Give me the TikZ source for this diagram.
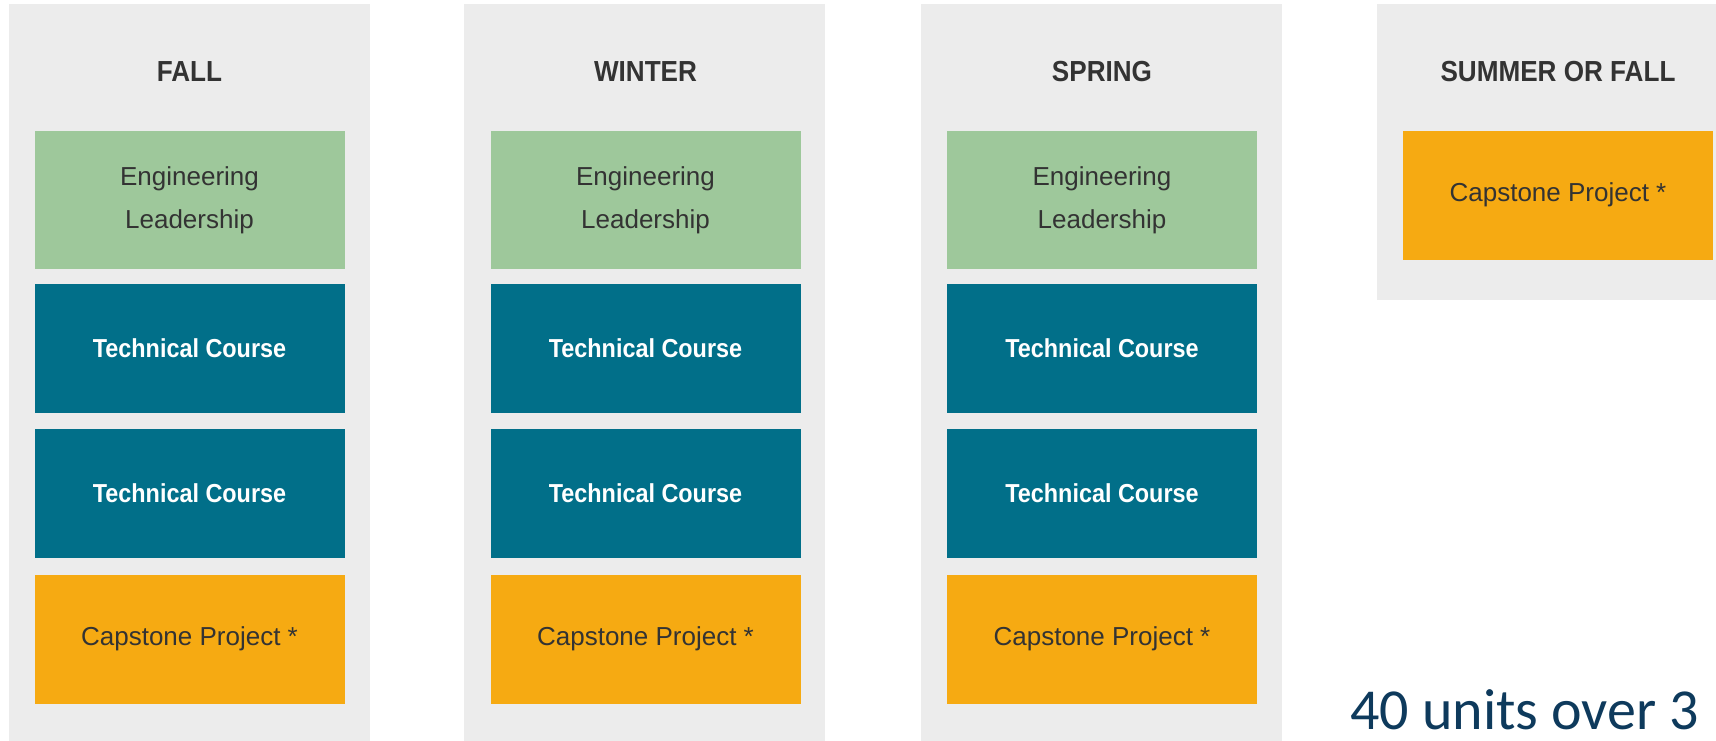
\documentclass[tikz,border=0pt]{standalone}
\usepackage{fontspec}
\setmainfont{Liberation Sans}
\newfontfamily\boldnarrow[FakeStretch=0.9]{Liberation Sans Bold}
\newfontfamily\calib{Carlito}
\definecolor{panelgrey}{HTML}{ECECEC}
\definecolor{leadgreen}{HTML}{9EC89B}
\definecolor{techteal}{HTML}{016F89}
\definecolor{caporange}{HTML}{F6AA12}
\definecolor{txtdark}{HTML}{333333}
\definecolor{unitblue}{HTML}{0E3A5C}
\tikzset{
  panel/.style={fill=panelgrey, draw=none, inner sep=0pt, outer sep=0pt, minimum width=361pt},
  boxbase/.style={draw=none, inner sep=0pt, outer sep=0pt, minimum width=310pt, align=center},
  leadbox/.style={boxbase, fill=leadgreen, minimum height=138pt, text=txtdark,
    font=\fontsize{26}{43}\selectfont},
  techbox/.style={boxbase, fill=techteal, minimum height=129pt, text=white,
    font=\boldnarrow\fontsize{26}{30}\selectfont},
  capbox/.style={boxbase, fill=caporange, minimum height=129pt, text=txtdark,
    font=\fontsize{26}{30}\selectfont},
  title/.style={anchor=base, inner sep=0pt, text=txtdark,
    font=\boldnarrow\fontsize{29}{32}\selectfont},
}
\begin{document}
\begin{tikzpicture}[x=1pt, y=-1pt]
\useasboundingbox (0,0) rectangle (1716,740);
% panels
\node[panel, minimum height=740pt, anchor=north west] (pfall) at (9,4) {};
\node[panel, minimum height=740pt, anchor=north west] (pwinter) at (464,4) {};
\node[panel, minimum height=740pt, anchor=north west] (pspring) at (921,4) {};
\node[panel, minimum height=296pt, anchor=north west] (psummer) at (1377,4) {};
% titles
\node[title] (tfall) at (189.5,81) {FALL};
\node[title] (twinter) at (645.5,81) {WINTER};
\node[title] (tspring) at (1102,81) {SPRING};
\node[title] (tsummer) at (1558,81) {SUMMER OR FALL};
% fall
\node[leadbox] (f1) at (189.5,200) {Engineering\\Leadership};
\node[techbox] (f2) at (189.5,348.5) {Technical Course};
\node[techbox] (f3) at (189.5,493) {Technical Course};
\node[capbox] (f4) at (189.5,639) {Capstone Project *};
% winter
\node[leadbox] (w1) at (645.5,200) {Engineering\\Leadership};
\node[techbox] (w2) at (645.5,348.5) {Technical Course};
\node[techbox] (w3) at (645.5,493) {Technical Course};
\node[capbox] (w4) at (645.5,639) {Capstone Project *};
% spring
\node[leadbox] (s1) at (1102,200) {Engineering\\Leadership};
\node[techbox] (s2) at (1102,348.5) {Technical Course};
\node[techbox] (s3) at (1102,493) {Technical Course};
\node[capbox] (s4) at (1102,639) {Capstone Project *};
% summer or fall
\node[capbox] (u1) at (1558,195) {Capstone Project *};
% units
\node[anchor=base west, inner sep=0pt, text depth=0pt, text=unitblue, font=\calib\fontsize{58}{64}\selectfont] (units) at (1350,729) {40 units over 3};
\end{tikzpicture}
\end{document}
